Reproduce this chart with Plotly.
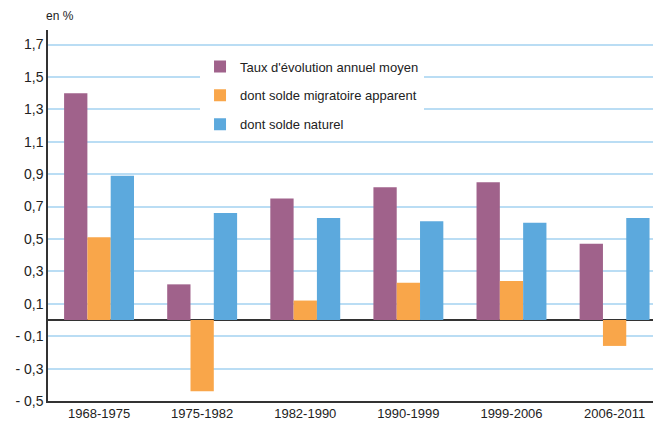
import plotly.graph_objects as go

categories = ["1968-1975", "1975-1982", "1982-1990", "1990-1999", "1999-2006", "2006-2011"]
taux_evolution = [1.40, 0.22, 0.75, 0.82, 0.85, 0.47]
solde_migratoire = [0.51, -0.44, 0.12, 0.23, 0.24, -0.16]
solde_naturel = [0.89, 0.66, 0.63, 0.61, 0.60, 0.63]
series_names = ["Taux d'évolution annuel moyen", "dont solde migratoire apparent", "dont solde naturel"]
series_colors = ["#A0628B", "#F9A64A", "#5CA9DD"]
tick_values = [1.7, 1.5, 1.3, 1.1, 0.9, 0.7, 0.5, 0.3, 0.1, -0.1, -0.3, -0.5]
tick_labels = ["1,7", "1,5", "1,3", "1,1", "0,9", "0,7", "0,5", "0,3", "0,1", "- 0,1", "- 0,3", "- 0,5"]

FONT = "Liberation Sans, Arial, sans-serif"

fig = go.Figure()
for name, vals, col in zip(series_names, [taux_evolution, solde_migratoire, solde_naturel], series_colors):
    fig.add_trace(go.Bar(x=categories, y=vals, name=name, marker=dict(color=col, line=dict(width=0)),
                         legendgroup=name))

# page body has an 8px margin, so the figure is 8px smaller and shifted
fig.update_layout(
    width=653, height=418,
    margin=dict(l=40, r=0, t=22, b=25),
    paper_bgcolor="white", plot_bgcolor="white",
    barmode="group", bargap=0.322, bargroupgap=0,
    font=dict(family=FONT, size=13, color="#222222"),
    showlegend=True,
    legend=dict(x=0.248, y=0.942, xanchor="left", yanchor="top", bgcolor="white",
                font=dict(family=FONT, size=13, color="#222222"),
                tracegroupgap=9, itemwidth=30),
    xaxis=dict(type="category", range=[-0.495, 5.45], showgrid=False, showline=True,
               linecolor="#333333", linewidth=1.5, ticks="", tickfont=dict(size=13),
               zeroline=False),
    yaxis=dict(range=[-0.5, 1.79], tickvals=tick_values, ticktext=tick_labels,
               showgrid=True, gridcolor="#BADDF4", gridwidth=1.5,
               showline=True, linecolor="#333333", linewidth=1.5,
               zeroline=True, zerolinecolor="#333333", zerolinewidth=1.5,
               ticks="", tickfont=dict(size=14)),
    annotations=[dict(text="en %", xref="paper", yref="paper", x=0, y=1, xshift=-4, yshift=5,
                      xanchor="left", yanchor="bottom", showarrow=False,
                      font=dict(family=FONT, size=12, color="#222222"))],
)

fig.write_html("out.html")
